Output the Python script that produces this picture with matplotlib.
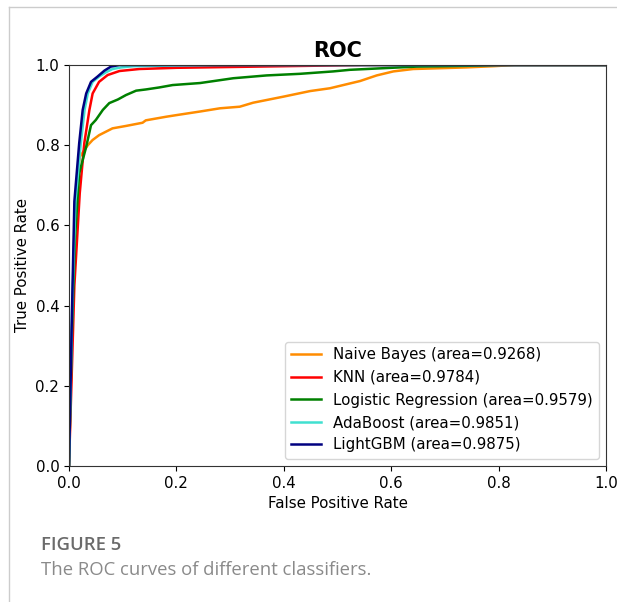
import matplotlib
matplotlib.use("Agg")
import matplotlib.pyplot as plt
from matplotlib.lines import Line2D

# ROC points
nb_fpr = [0, 0.011, 0.02, 0.035, 0.044, 0.056, 0.081, 0.106, 0.137, 0.143, 0.181, 0.2,
          0.244, 0.281, 0.318, 0.343, 0.399, 0.449, 0.486, 0.517, 0.542, 0.573, 0.604,
          0.641, 0.691, 0.74, 0.79, 0.83, 1.0]
nb_tpr = [0, 0.65, 0.771, 0.80, 0.813, 0.825, 0.842, 0.848, 0.856, 0.862, 0.871, 0.875,
          0.884, 0.892, 0.896, 0.906, 0.921, 0.935, 0.942, 0.952, 0.96, 0.974, 0.984,
          0.99, 0.992, 0.994, 0.997, 1.0, 1.0]

knn_fpr = [0, 0.01, 0.02, 0.0285, 0.038, 0.044, 0.056, 0.072, 0.094, 0.131, 0.2, 0.3,
           0.4, 0.55, 1.0]
knn_tpr = [0, 0.45, 0.68, 0.805, 0.888, 0.929, 0.958, 0.975, 0.985, 0.99, 0.993, 0.995,
           0.997, 1.0, 1.0]

lr_fpr = [0, 0.005, 0.011, 0.019, 0.032, 0.041, 0.05, 0.063, 0.075, 0.091, 0.106, 0.125,
          0.143, 0.168, 0.193, 0.244, 0.306, 0.368, 0.43, 0.492, 0.523, 0.585, 0.647,
          0.74, 0.80, 1.0]
lr_tpr = [0, 0.314, 0.564, 0.73, 0.796, 0.85, 0.863, 0.888, 0.905, 0.914, 0.925, 0.936,
          0.939, 0.944, 0.95, 0.955, 0.967, 0.974, 0.978, 0.984, 0.988, 0.992, 0.996,
          0.998, 1.0, 1.0]

ada_fpr = [0, 0.006, 0.012, 0.022, 0.029, 0.035, 0.044, 0.056, 0.069, 0.081, 0.097, 0.12,
           0.2, 0.3, 1.0]
ada_tpr = [0, 0.4, 0.66, 0.805, 0.888, 0.929, 0.958, 0.971, 0.982, 0.99, 0.994, 0.997,
           0.999, 1.0, 1.0]

lgb_fpr = [0, 0.005, 0.010, 0.019, 0.0255, 0.032, 0.041, 0.053, 0.066, 0.078, 0.094, 1.0]
lgb_tpr = [0, 0.35, 0.66, 0.805, 0.888, 0.929, 0.958, 0.971, 0.986, 0.996, 1.0, 1.0]

labels = ["Naive Bayes (area=0.9268)", "KNN (area=0.9784)",
          "Logistic Regression (area=0.9579)", "AdaBoost (area=0.9851)",
          "LightGBM (area=0.9875)"]
colors = ["darkorange", "red", "green", "turquoise", "navy"]
curves = [(nb_fpr, nb_tpr), (knn_fpr, knn_tpr), (lr_fpr, lr_tpr),
          (ada_fpr, ada_tpr), (lgb_fpr, lgb_tpr)]

fs = 10.8
fig = plt.figure(figsize=(6.17, 6.02), dpi=100)
ax = fig.add_axes([69 / 617, 136 / 602, 537 / 617, 401 / 602])

for (f, t), c, lab in zip(curves, colors, labels):
    ax.plot(f, t, color=c, lw=1.8, label=lab)

ax.set_xlim(0, 1)
ax.set_ylim(0, 1)
ax.set_title("ROC", fontsize=15, fontweight="bold")
ax.set_xlabel("False Positive Rate", fontsize=fs)
ax.set_ylabel("True Positive Rate", fontsize=fs)
ax.tick_params(labelsize=fs)
for s in ax.spines.values():
    s.set_color("#333333")
ax.legend(loc="lower right", fontsize=fs)

# page frame lines and caption
fig.add_artist(Line2D([9 / 617, 1], [1 - 7 / 602, 1 - 7 / 602], color="#cccccc", lw=1))
fig.add_artist(Line2D([9 / 617, 9 / 617], [0, 1 - 7 / 602], color="#cccccc", lw=1))
fig.text(41 / 617, 1 - 545 / 602, "FIGURE 5", fontsize=13.3, fontweight="semibold",
         family="Open Sans", color="#6b6b6b", va="center")
fig.text(41 / 617, 1 - 570 / 602, "The ROC curves of different classifiers.", fontsize=13.3,
         family="Open Sans", color="#8a8a8a", va="center")

fig.savefig("out.png", dpi=100)
